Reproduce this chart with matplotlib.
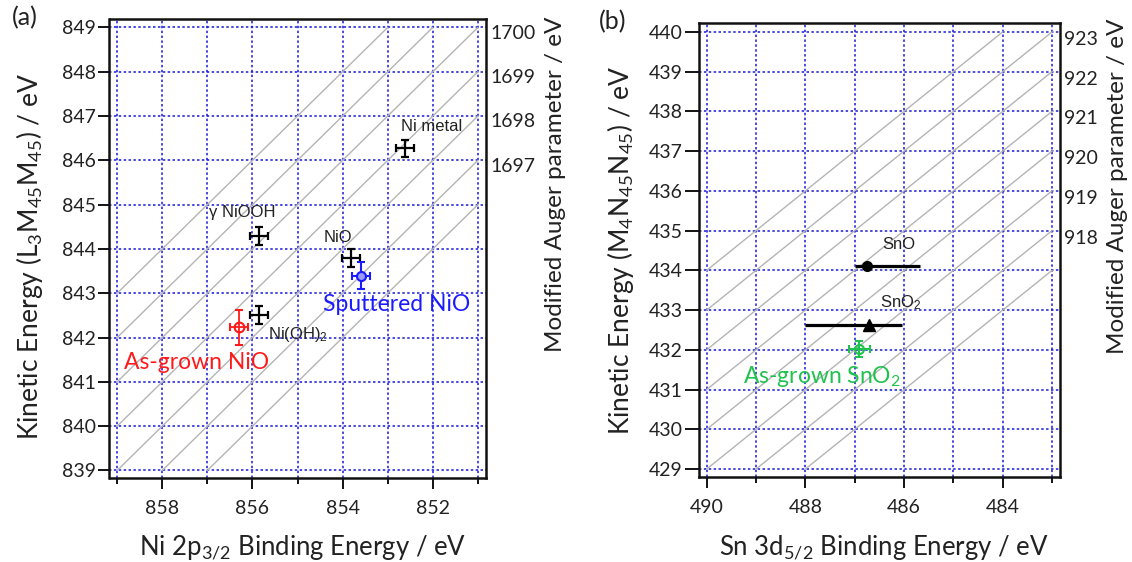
import matplotlib
matplotlib.use("Agg")
import matplotlib.pyplot as plt
import numpy as np
from matplotlib.ticker import FixedLocator

# ---------------- data: panel (a) Ni ----------------
ni_ref_names = ["Ni metal", "γ NiOOH", "NiO", "Ni(OH)$_2$"]
ni_ref_be = [852.62, 855.86, 853.82, 855.86]
ni_ref_ke = [846.27, 844.29, 843.79, 842.51]
ni_ref_be_err = [0.2, 0.2, 0.2, 0.2]
ni_ref_ke_err = [0.2, 0.2, 0.2, 0.2]

ni_sample_names = ["Sputtered NiO", "As-grown NiO"]
ni_sample_be = [853.60, 856.30]
ni_sample_ke = [843.40, 842.23]
ni_sample_be_err = [0.2, 0.2]
ni_sample_ke_err = [0.3, 0.4]

ni_auger_values = [1696, 1697, 1698, 1699, 1700, 1701, 1702]
ni_right_ticks = [1697, 1698, 1699, 1700]
ni_x_major = [858, 856, 854, 852]
ni_x_minor = [859, 857, 855, 853, 851]
ni_y_ticks = [839, 840, 841, 842, 843, 844, 845, 846, 847, 848, 849]

# ---------------- data: panel (b) Sn ----------------
sn_ref_names = ["SnO", "SnO$_2$"]
sn_ref_be = [486.75, 486.71]
sn_ref_ke = [434.12, 432.62]
sn_ref_be_min = [485.68, 486.05]
sn_ref_be_max = [487.00, 488.01]

sn_sample_names = ["As-grown SnO$_2$"]
sn_sample_be = [486.91]
sn_sample_ke = [432.02]
sn_sample_be_err = [0.21]
sn_sample_ke_err = [0.21]

sn_auger_values = [917, 918, 919, 920, 921, 922, 923, 924]
sn_right_ticks = [918, 919, 920, 921, 922, 923]
sn_x_major = [490, 488, 486, 484]
sn_x_minor = [489, 487, 485, 483]
sn_y_ticks = [429, 430, 431, 432, 433, 434, 435, 436, 437, 438, 439, 440]

# ---------------- style ----------------
plt.rcParams['font.family'] = ['Lato', 'DejaVu Sans']
plt.rcParams['mathtext.default'] = 'regular'
TEXT = '#222222'
GRID_BLUE = '#1a1ad6'
DIAG = '#b4b4b4'
RED = '#ff1a1a'
BLUE = '#1a1aff'
GREEN = '#1fc24c'
TICK_FS = 14
XLABEL_FS = 18.5
YLABEL_FS = 19
RLABEL_FS = 17.5
SAMPLE_FS = 16.5

W, H = 1132, 562
fig = plt.figure(figsize=(W / 100, H / 100), dpi=100)


def px_axes(l, t, r, b):
    return fig.add_axes([l / W, 1 - b / H, (r - l) / W, (b - t) / H])


def style_axes(ax, xlim, ylim, xmaj, xmin, yt):
    ax.set_xlim(*xlim)
    ax.set_ylim(*ylim)
    ax.xaxis.set_major_locator(FixedLocator(xmaj))
    ax.xaxis.set_minor_locator(FixedLocator(xmin))
    ax.yaxis.set_major_locator(FixedLocator(yt))
    ax.set_xticklabels([str(v) for v in xmaj])
    ax.set_yticklabels([str(v) for v in yt])
    ax.tick_params(axis='both', which='major', direction='out', length=8,
                   width=1.3, labelsize=TICK_FS, colors='black', labelcolor=TEXT)
    ax.tick_params(axis='x', which='minor', direction='out', length=4, width=1.3)
    ax.tick_params(axis='x', which='major', pad=8)
    ax.tick_params(axis='y', which='major', pad=2)
    for s in ax.spines.values():
        s.set_linewidth(1.8)
        s.set_color('#111111')
    ax.grid(True, which='both', axis='x', color=GRID_BLUE, linestyle=(0, (1.6, 1.6)),
            linewidth=1.1, zorder=1)
    ax.grid(True, which='major', axis='y', color=GRID_BLUE, linestyle=(0, (1.6, 1.6)),
            linewidth=1.1, zorder=1)
    ax.set_axisbelow(True)


def draw_auger_lines(ax, values, be_lo, be_hi, ke_lo, ke_hi):
    for a in values:
        lo = max(be_lo, a - ke_hi)
        hi = min(be_hi, a - ke_lo)
        if hi <= lo:
            continue
        be = np.array([lo, hi])
        ax.plot(be, a - be, color=DIAG, lw=1.0, zorder=1.5)


def right_axis(ax, offset, ticks):
    axr = ax.twinx()
    lo, hi = ax.get_ylim()
    axr.set_ylim(lo + offset, hi + offset)
    axr.yaxis.set_major_locator(FixedLocator(ticks))
    axr.set_yticklabels([str(v) for v in ticks])
    axr.tick_params(axis='y', length=0, pad=3, labelsize=TICK_FS, labelcolor=TEXT)
    for s in axr.spines.values():
        s.set_visible(False)
    return axr


# ================= panel (a) =================
axA = px_axes(109.5, 19, 486, 478)
style_axes(axA, (859.17, 850.82), (838.83, 849.19), ni_x_major, ni_x_minor, ni_y_ticks)
draw_auger_lines(axA, ni_auger_values, min(ni_x_minor), max(ni_x_minor),
                 min(ni_y_ticks), max(ni_y_ticks))

axA.errorbar(ni_ref_be, ni_ref_ke, xerr=ni_ref_be_err, yerr=ni_ref_ke_err, fmt='none',
             ecolor='black', elinewidth=1.6, capsize=2.6, capthick=1.6, zorder=5)

# sputtered NiO (blue)
axA.errorbar([ni_sample_be[0]], [ni_sample_ke[0]], xerr=[ni_sample_be_err[0]],
             yerr=[ni_sample_ke_err[0]], fmt='o', ms=6.5, mfc='#9a9aff', mec=BLUE,
             mew=1.5, ecolor=BLUE, elinewidth=1.5, capsize=2.6, capthick=1.5, zorder=6)
# as-grown NiO (red)
axA.errorbar([ni_sample_be[1]], [ni_sample_ke[1]], xerr=[ni_sample_be_err[1]],
             yerr=[ni_sample_ke_err[1]], fmt='o', ms=7, mfc='none', mec=RED,
             mew=1.5, ecolor=RED, elinewidth=1.3, capsize=2.6, capthick=1.3, zorder=6)

ni_ref_offsets = [(-3, 16), (-36, 17), (-19.5, 15), (6.5, -14)]
for name, x, y, off in zip(ni_ref_names, ni_ref_be, ni_ref_ke, ni_ref_offsets):
    axA.annotate(name, (x, y), xytext=off, textcoords='offset points', ha='left',
                 va='center', fontsize=12, color=TEXT,
                 family=['Liberation Sans', 'DejaVu Sans'], zorder=7)

ni_sample_offsets = [(-27, -21), (-83, -25)]
ni_sample_colors = [BLUE, RED]
for name, x, y, off, c in zip(ni_sample_names, ni_sample_be, ni_sample_ke,
                              ni_sample_offsets, ni_sample_colors):
    axA.annotate(name, (x, y), xytext=off, textcoords='offset points', ha='left',
                 va='center', fontsize=SAMPLE_FS, color=c, zorder=7)

right_axis(axA, 851.1, ni_right_ticks)

# ================= panel (b) =================
axB = px_axes(699.3, 22.7, 1060, 477)
style_axes(axB, (490.15, 482.84), (428.8, 440.23), sn_x_major, sn_x_minor, sn_y_ticks)
axB.tick_params(axis='y', which='major', length=10)
draw_auger_lines(axB, sn_auger_values, min(sn_x_minor + sn_x_major),
                 max(sn_x_minor + sn_x_major), min(sn_y_ticks), max(sn_y_ticks))

sn_minus = [b - lo for b, lo in zip(sn_ref_be, sn_ref_be_min)]
sn_plus = [hi - b for b, hi in zip(sn_ref_be, sn_ref_be_max)]
sn_markers = ['o', '^']
sn_ms = [7, 8]
for i in range(len(sn_ref_be)):
    axB.errorbar([sn_ref_be[i]], [sn_ref_ke[i]], xerr=[[sn_minus[i]], [sn_plus[i]]],
                 fmt=sn_markers[i], ms=sn_ms[i], color='black', ecolor='black',
                 elinewidth=2.3, capsize=0, zorder=6)

axB.errorbar(sn_sample_be, sn_sample_ke, xerr=sn_sample_be_err, yerr=sn_sample_ke_err,
             fmt='o', ms=6.5, mfc='none', mec=GREEN, mew=1.5, ecolor=GREEN,
             elinewidth=1.5, capsize=2.6, capthick=1.5, zorder=6)

sn_ref_offsets = [(11, 15), (8, 16)]
for name, x, y, off in zip(sn_ref_names, sn_ref_be, sn_ref_ke, sn_ref_offsets):
    axB.annotate(name, (x, y), xytext=off, textcoords='offset points', ha='left',
                 va='center', fontsize=12, color=TEXT,
                 family=['Liberation Sans', 'DejaVu Sans'], zorder=7)

for name, x, y in zip(sn_sample_names, sn_sample_be, sn_sample_ke):
    axB.annotate(name, (x, y), xytext=(-84, -20), textcoords='offset points', ha='left',
                 va='center', fontsize=SAMPLE_FS, color=GREEN, zorder=7)

right_axis(axB, 483.15, sn_right_ticks)

# ================= labels =================
def ftext(x, y, s, **kw):
    fig.text(x / W, 1 - y / H, s, color=TEXT, **kw)

ftext(30, 256, "Kinetic Energy (L$_3$M$_{45}$M$_{45}$) / eV", rotation=90,
      ha='center', va='center', fontsize=YLABEL_FS)
ftext(556, 17, "Modified Auger parameter / eV", rotation=90, ha='center', va='top',
      fontsize=RLABEL_FS)
ftext(303, 548, "Ni 2p$_{3/2}$ Binding Energy / eV", ha='center', va='center',
      fontsize=XLABEL_FS)
ftext(620, 250, "Kinetic Energy (M$_4$N$_{45}$N$_{45}$) / eV", rotation=90,
      ha='center', va='center', fontsize=YLABEL_FS)
ftext(1118, 19, "Modified Auger parameter / eV", rotation=90, ha='center', va='top',
      fontsize=RLABEL_FS)
ftext(884, 548, "Sn 3d$_{5/2}$ Binding Energy / eV", ha='center', va='center',
      fontsize=XLABEL_FS)
ftext(25, 18, "(a)", ha='center', va='center', fontsize=18)
ftext(613, 22, "(b)", ha='center', va='center', fontsize=18)

fig.savefig("out.png", dpi=100)
